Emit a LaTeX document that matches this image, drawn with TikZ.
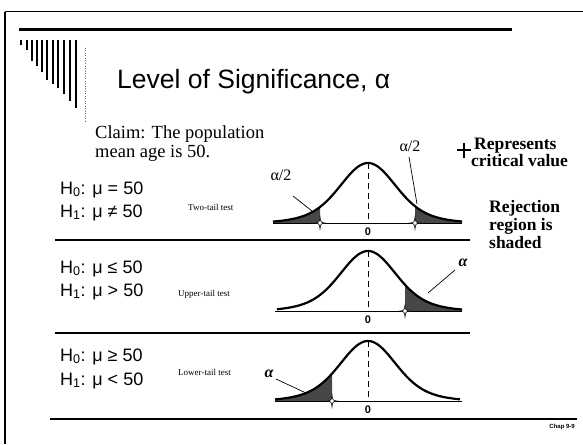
\documentclass[tikz,border=0pt]{standalone}
\usepackage{fontspec}
\setmainfont{Liberation Serif}
\setsansfont{Liberation Sans}
\begin{document}
\begin{tikzpicture}[x=1pt,y=-1pt,
  declare function={gauss(\t)=60*(0.7*exp(-((\t-368)^2)/1250)+0.3*exp(-((\t-368)^2)/3528));},
  hyp/.style={font=\sffamily\fontsize{18}{20}\selectfont, anchor=base west, inner sep=0pt},
  testlbl/.style={font=\rmfamily\fontsize{9}{10}\selectfont, anchor=base west, inner sep=0pt},
  note/.style={font=\rmfamily\bfseries\fontsize{17.5}{18}\selectfont, anchor=base west, inner sep=0pt},
  claimtxt/.style={font=\rmfamily\fontsize{18.5}{19}\selectfont, anchor=base west, inner sep=0pt},
  sepline/.style={line width=1.6pt},
  bell/.style={line width=2.2pt, line join=round},
  axisline/.style={line width=0.9pt},
  tailfill/.style={fill=black!72},
  ptr/.style={line width=0.7pt},
  zerolbl/.style={font=\sffamily\bfseries\fontsize{11}{12}\selectfont, anchor=base, inner sep=0pt},
  alab/.style={font=\rmfamily\fontsize{16}{17}\selectfont, anchor=base, inner sep=0pt},
  alabit/.style={font=\rmfamily\itshape\bfseries\fontsize{16}{17}\selectfont, anchor=base, inner sep=0pt},
  critmark/.pic={\filldraw[fill=white,draw=black,line width=0.6pt]
     (0,-6) .. controls (0.7,-0.7) .. (5,0) .. controls (0.7,0.7) .. (0,6)
     .. controls (-0.7,0.7) .. (-5,0) .. controls (-0.7,-0.7) .. cycle;},
  bar/.style={line width=1.8pt}
]
\useasboundingbox (0,0) rectangle (583,444);
\fill[white] (0,0) rectangle (583,444);
% frame
\draw[line width=1pt] (5,12) -- (583,12);
\draw[line width=1.2pt] (5,12) -- (5,444);
\draw[line width=3pt] (19,30) -- (512,30);
% bars decoration
\foreach \bx/\by in {21/45,27/50,32/61,37/66,42/72,47/80,53/84,58/88,64/94,70/101,76/108}
  \draw[bar] (\bx,40) -- (\bx,\by);
\draw[dotted, line width=0.5pt, black!60] (85,48) -- (85,122);
% title
\node[font=\sffamily\fontsize{26.5}{30}\selectfont, anchor=base west, inner sep=0pt] (title) at (117,88) {Level of Significance, α};
% claim
\node[claimtxt] (claim1) at (95,138) {Claim: The population};
\node[claimtxt] (claim2) at (95,157) {mean age is 50.};
% legend
\draw[line width=1.8pt] (457,150) -- (471,150);
\draw[line width=1.8pt] (464,143) -- (464,158);
\node[note] (rep1) at (474,149) {Represents};
\node[note] (rep2) at (471,166) {critical value};
\node[note] (rej1) at (489,212) {Rejection};
\node[note] (rej2) at (489,230) {region is};
\node[note] (rej3) at (489,248) {shaded};
% hypotheses
\node[hyp] (h0a) at (60,194) {H\textsubscript{0}: μ = 50};
\node[hyp] (h1a) at (60,217) {H\textsubscript{1}: μ ≠ 50};
\node[hyp] (h0b) at (60,273) {H\textsubscript{0}: μ ≤ 50};
\node[hyp] (h1b) at (60,296) {H\textsubscript{1}: μ > 50};
\node[hyp] (h0c) at (60,361) {H\textsubscript{0}: μ ≥ 50};
\node[hyp] (h1c) at (60,385) {H\textsubscript{1}: μ < 50};
\node[testlbl] (two) at (188,210) {Two-tail test};
\node[testlbl] (upper) at (178,296) {Upper-tail test};
\node[testlbl] (lower) at (178,375) {Lower-tail test};
% separators
\draw[sepline] (55,240) -- (470,240);
\draw[sepline] (55,333) -- (470,333);
\draw[sepline] (50,419) -- (577,419);
\node[font=\sffamily\bfseries\fontsize{6}{7}\selectfont, anchor=base east, inner sep=0pt] (chap) at (575,428) {Chap 9-9};

% ---------- curve 1: two-tail ----------
\fill[tailfill] (273,223) -- plot[domain=273:320, samples=40] (\x,{223-gauss(\x)}) -- (320,223) -- cycle;
\fill[tailfill] (415,223) -- plot[domain=415:462, samples=40] (\x,{223-gauss(\x)}) -- (462,223) -- cycle;
\draw[axisline] (273,223) -- (462,223);
\draw[bell] plot[domain=273:462, samples=120] (\x,{223-gauss(\x)});
\draw[dashed, dash pattern=on 6pt off 4pt, line width=0.7pt] (368,163) -- (368,223);
\pic at (320,223) {critmark};
\pic at (415,223) {critmark};
\node[zerolbl] (z1) at (368,235) {0};
\node[alab] (a2l) at (281,180) {α/2};
\node[alab] (a2r) at (410,151) {α/2};
\coordinate (p1) at (312,211);
\coordinate (p2) at (417,204);
\draw[ptr] (293,196) -- (p1);
\draw[ptr] (409,157) -- (p2);

% ---------- curve 2: upper tail ----------
\fill[tailfill] (405,311) -- plot[domain=405:462, samples=40] (\x,{311-gauss(\x)}) -- (462,311) -- cycle;
\draw[axisline] (275,311) -- (462,311);
\draw[bell] plot[domain=277:462, samples=120] (\x,{311-gauss(\x)});
\draw[dashed, dash pattern=on 6pt off 4pt, line width=0.7pt] (368,251) -- (368,311);
\pic at (405,311) {critmark};
\node[zerolbl] (z2) at (368,323) {0};
\node[alabit] (au) at (463,266) {α};
\coordinate (p3) at (428,293);
\draw[ptr] (455,270) -- (p3);

% ---------- curve 3: lower tail ----------
\fill[tailfill] (275,401) -- plot[domain=275:332, samples=40] (\x,{401-gauss(\x)}) -- (332,401) -- cycle;
\draw[axisline] (275,401) -- (462,401);
\draw[bell] plot[domain=275:460, samples=120] (\x,{401-gauss(\x)});
\draw[dashed, dash pattern=on 6pt off 4pt, line width=0.7pt] (368,341) -- (368,401);
\pic at (332,401) {critmark};
\node[zerolbl] (z3) at (368,413) {0};
\node[alabit] (al) at (269,377) {α};
\coordinate (p4) at (306,393);
\draw[ptr] (276,379) -- (p4);
\end{tikzpicture}
\end{document}
